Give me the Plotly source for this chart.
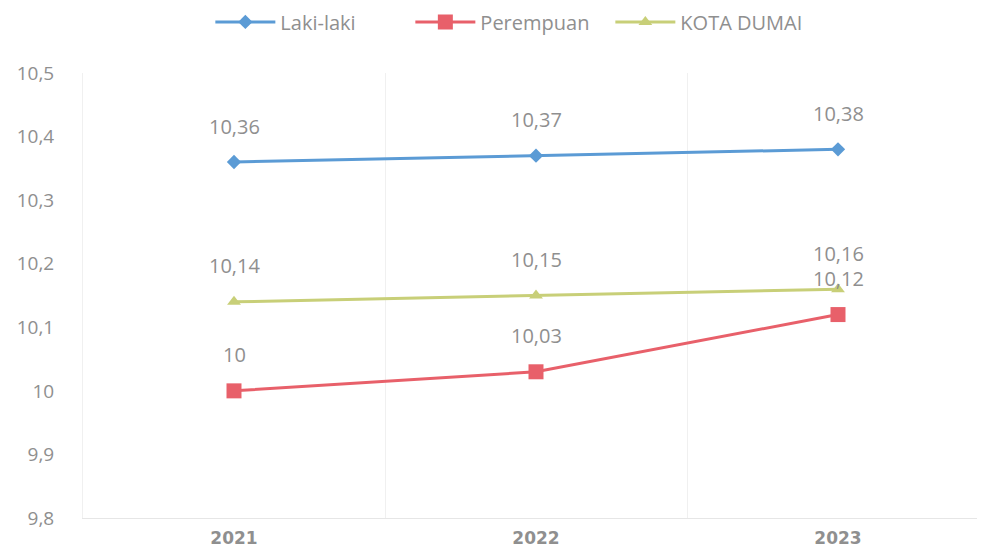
import plotly.graph_objects as go

tahun = ["2021", "2022", "2023"]
laki_laki = [10.36, 10.37, 10.38]
perempuan = [10.00, 10.03, 10.12]
kota_dumai = [10.14, 10.15, 10.16]

label_laki = ["10,36", "10,37", "10,38"]
label_perempuan = ["10", "10,03", "10,12"]
label_kota = ["10,14", "10,15", "10,16"]

y_ticks = [9.8, 9.9, 10.0, 10.1, 10.2, 10.3, 10.4, 10.5]
y_ticktext = ["9,8", "9,9", "10", "10,1", "10,2", "10,3", "10,4", "10,5"]

abu = "#8f8f8f"
font_utama = "Open Sans, Lato, sans-serif"

fig = go.Figure()

# garis tiap kelompok
fig.add_trace(go.Scatter(
    x=tahun, y=laki_laki, name="Laki-laki", mode="lines+markers",
    line=dict(color="#5B9BD5", width=3),
    marker=dict(symbol="diamond", size=11, color="#5B9BD5"),
))
fig.add_trace(go.Scatter(
    x=tahun, y=perempuan, name="Perempuan", mode="lines+markers",
    line=dict(color="#E8606A", width=3),
    marker=dict(symbol="square", size=15, color="#E8606A"),
))
fig.add_trace(go.Scatter(
    x=tahun, y=kota_dumai, name="KOTA DUMAI", mode="lines+markers",
    line=dict(color="#C8CF78", width=3),
    marker=dict(symbol="triangle-up", size=12, color="#C8CF78"),
))

# label nilai di atas titik (x pakai indeks kategori)
for ys, labels in [(laki_laki, label_laki), (perempuan, label_perempuan), (kota_dumai, label_kota)]:
    for i, (y, t) in enumerate(zip(ys, labels)):
        fig.add_annotation(x=i, y=y, text=t, showarrow=False, yshift=36,
                           font=dict(family=font_utama, size=20, color=abu))

fig.update_layout(
    width=985, height=555,
    margin=dict(l=75, r=4, t=65, b=45, autoexpand=False),
    plot_bgcolor="white", paper_bgcolor="white",
    font=dict(family=font_utama, color=abu),
    legend=dict(orientation="h", x=0.51, xanchor="center", xref="container",
                y=0.975, yanchor="middle", yref="container",
                font=dict(size=20, color=abu), itemwidth=60, entrywidth=125),
    showlegend=True,
)

fig.update_xaxes(
    type="category", range=[-0.5, 2.5], tickson="boundaries",
    showgrid=True, gridcolor="#f0f0f0",
    showline=True, linecolor="#e6e6e6",
    tickfont=dict(family="DejaVu Sans, sans-serif", size=17, color=abu, weight="bold"),
    ticks="", ticklabelstandoff=5,
)
fig.update_yaxes(
    range=[9.8, 10.5], tickvals=y_ticks, ticktext=y_ticktext,
    showgrid=False, zeroline=False,
    showline=True, linecolor="#f0f0f0",
    tickfont=dict(family=font_utama, size=19, color=abu),
    ticklabelstandoff=24,
)

fig.write_html("out.html")
